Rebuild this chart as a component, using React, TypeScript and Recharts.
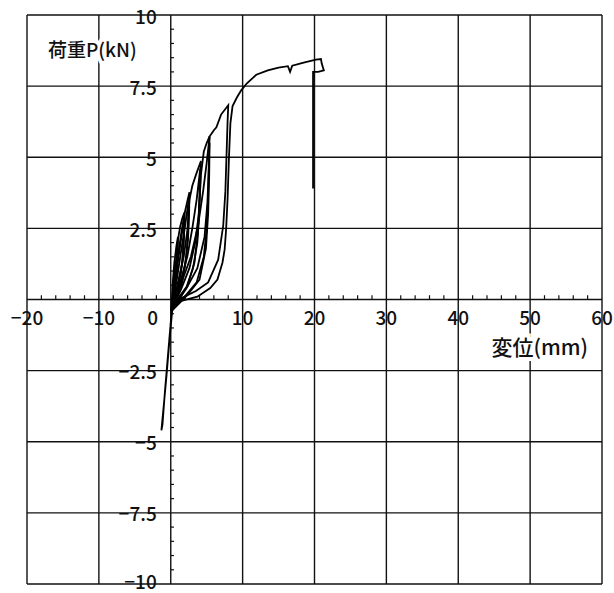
import { LineChart, Line, XAxis, YAxis, ReferenceLine, ReferenceDot } from "recharts";

// 変位 (mm) / 荷重 (kN) loops
const cycle1 = [[0.1, -0.4], [0.25, 0.5], [0.5, 1.3], [0.8, 1.9], [1.0, 2.2], [0.95, 1.6], [0.85, 1.0], [0.6, 0.4], [0.3, -0.1], [0.1, -0.4]];
const cycle2 = [[0.1, -0.4], [0.4, 0.7], [0.8, 1.5], [1.0, 2.1], [1.3, 2.55], [1.6, 2.85], [1.9, 3.06], [1.85, 2.4], [1.7, 1.6], [1.4, 0.9], [0.9, 0.35], [0.4, 0.0], [0.1, -0.4]];
const cycle3 = [[0.1, -0.4], [0.6, 0.8], [1.1, 1.7], [1.5, 2.4], [1.9, 2.95], [1.85, 2.2], [1.6, 1.3], [1.0, 0.45], [0.4, -0.05], [0.1, -0.4]];
const cycle4 = [[0.1, -0.4], [0.7, 0.8], [1.2, 1.7], [1.6, 2.4], [1.95, 3.05], [2.3, 3.45], [2.6, 3.77], [2.55, 3.0], [2.4, 2.1], [2.0, 1.2], [1.4, 0.5], [0.7, 0.1], [0.1, -0.4]];
const cycle5 = [[0.1, -0.4], [0.9, 0.8], [1.5, 1.8], [2.0, 2.6], [2.5, 3.5], [2.45, 2.6], [2.2, 1.6], [1.6, 0.6], [0.8, 0.12], [0.1, -0.4]];
const cycle6 = [[0.1, -0.4], [1.0, 0.6], [1.8, 1.5], [2.3, 2.4], [2.6, 3.5], [3.0, 4.0], [3.6, 4.45], [4.2, 4.87], [4.1, 4.0], [3.95, 3.0], [3.7, 2.0], [3.1, 1.1], [2.2, 0.45], [1.2, 0.1], [0.1, -0.4]];
const cycle7 = [[0.1, -0.4], [1.3, 0.6], [2.3, 1.5], [3.0, 2.5], [3.6, 3.5], [4.1, 4.6], [4.0, 3.6], [3.8, 2.4], [3.3, 1.3], [2.3, 0.45], [1.2, 0.08], [0.1, -0.4]];
const cycle8 = [[0.1, -0.4], [1.5, 0.4], [2.6, 1.1], [3.4, 2.0], [3.9, 3.0], [4.2, 4.4], [4.6, 5.2], [5.0, 5.5], [5.4, 5.73], [5.3, 4.8], [5.2, 3.6], [5.0, 2.5], [4.6, 1.5], [3.6, 0.6], [2.0, 0.12], [0.1, -0.4]];
const cycle9 = [[0.1, -0.4], [2.2, 0.4], [3.7, 1.1], [4.7, 2.2], [5.1, 3.4], [5.3, 4.6], [5.4, 5.5], [5.35, 4.4], [5.2, 3.0], [4.9, 1.8], [4.0, 0.7], [2.3, 0.15], [0.1, -0.4]];
const cycle10 = [[0.1, -0.4], [1.5, 0.6], [2.8, 1.5], [3.8, 2.6], [4.5, 3.8], [5.0, 4.8], [5.4, 5.73], [6.0, 5.95], [6.35, 6.05], [7.0, 6.5], [8.0, 6.83], [7.9, 6.2], [7.75, 5.0], [7.6, 3.8], [7.3, 2.6], [6.6, 1.4], [5.2, 0.6], [3.5, 0.3], [1.5, 0.05], [0.1, -0.4]];
const finalLoad = [[0.1, -0.4], [1.5, -0.05], [3.7, 0.1], [5.5, 0.4], [6.5, 0.7], [7.2, 1.3], [7.5, 1.76], [7.7, 2.46], [7.9, 3.5], [8.1, 5.0], [8.3, 6.2], [8.6, 6.8], [9.2, 7.1], [9.8, 7.35], [10.6, 7.6], [11.9, 7.9], [13.5, 8.05], [15.0, 8.15], [16.3, 8.2], [16.6, 8.0], [16.9, 8.22], [18.5, 8.33], [20.2, 8.43], [20.9, 8.45], [21.0, 8.3], [21.3, 8.05], [20.5, 8.0], [19.8, 8.0], [19.8, 3.9]];
const negative = [[0.4, 0.3], [0.2, -0.4], [-0.2, -1.5], [-0.6, -2.7], [-1.0, -3.8], [-1.3, -4.6], [-1.15, -4.4], [-0.8, -3.2], [-0.4, -2.0], [0.0, -0.8], [0.3, 0.0]];

const curves = [cycle1, cycle2, cycle3, cycle4, cycle5, cycle6, cycle7, cycle8, cycle9, cycle10, finalLoad, negative];

const xTicks = [-20, -10, 0, 10, 20, 30, 40, 50, 60];
const yTicks = [-10, -7.5, -5, -2.5, 0, 2.5, 5, 7.5, 10];
const xLabels = ["−20", "−10", "0", "10", "20", "30", "40", "50", "60"];
const yLabels = ["−10", "−7.5", "−5", "−2.5", "", "2.5", "5", "7.5", "10"];

const xMinor = Array.from({ length: 41 }, (_, i) => -20 + i * 2).filter((v) => v % 10 !== 0);
const yMinor = Array.from({ length: 41 }, (_, i) => -10 + i * 0.5).filter((v) => v % 2.5 !== 0);

const font = "'Noto Sans CJK JP', 'Noto Sans', sans-serif";
const ink = "#111";

const toPoints = (c: number[][]) => c.map(([x, y]) => ({ x, y }));

export default function App() {
  return (
    <div style={{ position: "absolute", left: 0, top: 0, background: "#fff" }}>
      <LineChart width={614} height={593} margin={{ top: 15, right: 12, bottom: 9, left: 27 }}>
        <XAxis type="number" dataKey="x" domain={[-20, 60]} hide allowDataOverflow />
        <YAxis type="number" dataKey="y" domain={[-10, 10]} hide allowDataOverflow />

        {xTicks.map((v) => (
          <ReferenceLine key={"gx" + v} x={v} stroke={ink} strokeWidth={1.4} />
        ))}
        {yTicks.map((v) => (
          <ReferenceLine key={"gy" + v} y={v} stroke={ink} strokeWidth={1.4} />
        ))}
        {xMinor.map((v) => (
          <ReferenceLine key={"mx" + v} segment={[{ x: v, y: 0 }, { x: v, y: 0.15 }]} stroke={ink} strokeWidth={1.2} />
        ))}
        {yMinor.map((v) => (
          <ReferenceLine key={"my" + v} segment={[{ x: 0, y: v }, { x: 0.45, y: v }]} stroke={ink} strokeWidth={1.2} />
        ))}

        {curves.map((c, i) => (
          <Line
            key={"c" + i}
            data={toPoints(c)}
            dataKey="y"
            type="linear"
            stroke="#000"
            strokeWidth={1.8}
            dot={false}
            activeDot={false}
            isAnimationActive={false}
          />
        ))}

        {xTicks.map((v, i) => (
          <ReferenceDot
            key={"lx" + v}
            x={v}
            y={0}
            r={0}
            shape={(p: any) => (
              <text
                x={p.cx + (v === 0 ? -18 : 0)}
                y={p.cy + 17}
                textAnchor="middle"
                dominantBaseline="central"
                fontFamily={font}
                fontSize={19}
                fontWeight={500}
                fill={ink}
              >
                {xLabels[i]}
              </text>
            )}
          />
        ))}
        {yTicks.map((v, i) =>
          yLabels[i] ? (
            <ReferenceDot
              key={"ly" + v}
              x={0}
              y={v}
              r={0}
              shape={(p: any) => (
                <text
                  x={p.cx - 14}
                  y={p.cy + (v === -10 ? -4 : 0)}
                  textAnchor="end"
                  dominantBaseline="central"
                  fontFamily={font}
                  fontSize={19}
                  fontWeight={500}
                  fill={ink}
                >
                  {yLabels[i]}
                </text>
              )}
            />
          ) : null
        )}

        <ReferenceDot
          x={-20}
          y={10}
          r={0}
          shape={(p: any) => (
            <text
              x={p.cx + 21}
              y={p.cy + 33}
              dominantBaseline="central"
              fontFamily={font}
              fontSize={19}
              fontWeight={500}
              fill={ink}
              stroke="#fff"
              strokeWidth={8}
              paintOrder="stroke"
            >
              荷重P(kN)
            </text>
          )}
        />
        <ReferenceDot
          x={60}
          y={0}
          r={0}
          shape={(p: any) => (
            <text
              x={p.cx - 14}
              y={p.cy + 46}
              textAnchor="end"
              dominantBaseline="central"
              fontFamily={font}
              fontSize={21}
              fontWeight={500}
              fill={ink}
              stroke="#fff"
              strokeWidth={8}
              paintOrder="stroke"
            >
              変位(mm)
            </text>
          )}
        />
      </LineChart>
    </div>
  );
}
